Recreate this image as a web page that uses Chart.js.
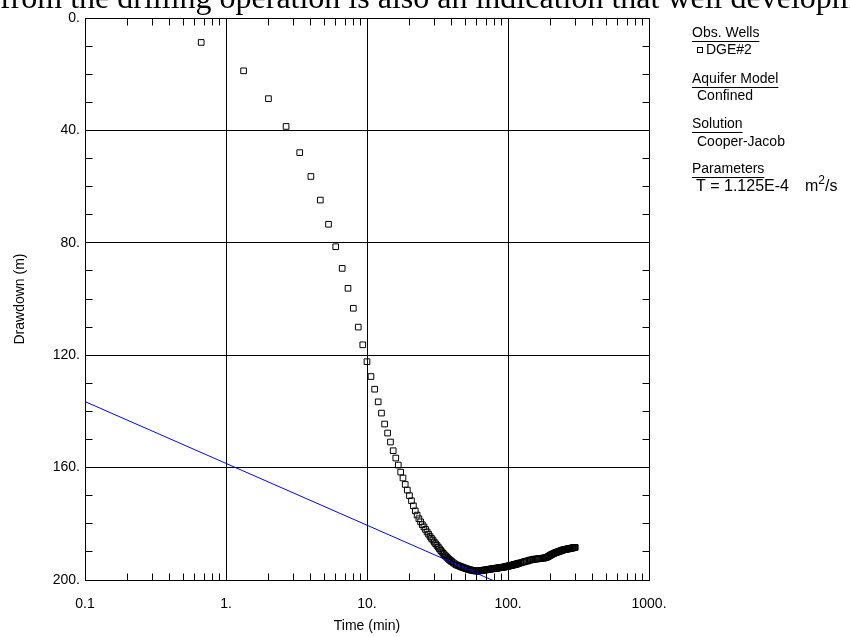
<!DOCTYPE html>
<html><head><meta charset="utf-8">
<style>html,body{margin:0;padding:0;background:#fff;}#wrap{position:relative;width:850px;height:637px;overflow:hidden;}</style>
<script src="https://cdn.jsdelivr.net/npm/chart.js@4/dist/chart.umd.min.js"></script>
</head><body><div id="wrap"><canvas id="c" width="850" height="637"></canvas></div>
<script>
// ---- data ----
const timeMin = [
  0.667,1.333,2,2.667,3.333,4,4.667,5.333,6,6.667,7.333,8,8.667,9.333,10,
  10.667,11.333,12,12.667,13.333,14,14.667,15.333,16,16.667,17.333,18,18.667,19.333,20,
  20.667,21.333,22,22.667,23.333,24,24.667,25.333,26,26.667,27.333,28,28.667,29.333,30,
  30.667,31.333,32,32.667,33.333,34,34.667,35.333,36,36.667,37.333,38,38.667,39.333,40,
  41,42,43,44,45,46,47,48,49,50,51,52,53,54,55,56,57,58,59,60,
  61,62,63,64,65,66,67,68,69,70,71,72,73,74,75,76,77,78,79,80,
  81,82,83,84,85,86,87,88,89,90,91,92,93,94,95,96,97,98,99,100,
  101,102,103,104,105,106,107,108,109,110,111,112,113,114,115,116,117,118,119,120,
  123,126,129,132,135,138,141,144,147,150,153,156,159,162,165,168,171,174,177,180,
  183,186,189,192,195,198,201,204,207,210,213,216,219,222,225,228,231,234,237,240,
  243,246,249,252,255,258,261,264,267,270,273,276,279,282,285,288,291,294,297,300
];
const drawdownM = [
  8.7,18.8,28.7,38.6,47.9,56.4,64.8,73.4,81.4,89.1,96.2,103.3,110.0,116.3,122.3,
  127.6,132.1,136.6,140.6,144.5,147.7,150.9,154.0,156.6,159.1,161.6,163.7,166.0,168.0,170.0,
  171.8,173.6,175.4,176.9,178.2,179.3,180.3,181.1,182.0,182.9,183.7,184.5,185.2,185.8,186.5,
  187.1,187.7,188.3,188.9,189.5,190.0,190.5,191.0,191.4,191.8,192.2,192.6,192.9,193.2,193.5,
  193.9,194.3,194.6,194.8,195.0,195.2,195.4,195.6,195.7,195.9,196.0,196.2,196.3,196.4,196.5,196.6,196.7,196.7,196.8,196.8,
  196.8,196.8,196.7,196.7,196.6,196.6,196.5,196.5,196.4,196.4,196.3,196.3,196.2,196.2,196.1,196.1,196.0,196.0,196.0,195.9,
  195.9,195.8,195.8,195.8,195.7,195.7,195.6,195.6,195.6,195.5,195.5,195.5,195.4,195.4,195.3,195.3,195.2,195.2,195.1,195.1,
  195.0,195.0,194.9,194.9,194.8,194.8,194.7,194.7,194.6,194.6,194.5,194.5,194.4,194.4,194.3,194.3,194.2,194.1,194.1,194.0,
  193.9,193.7,193.6,193.4,193.3,193.2,193.0,192.9,192.8,192.7,192.6,192.6,192.5,192.5,192.4,192.4,192.3,192.3,192.2,192.2,
  192.1,192.0,191.9,191.7,191.5,191.3,191.1,190.9,190.8,190.6,190.5,190.3,190.2,190.1,190.0,189.9,189.8,189.7,189.6,189.5,
  189.4,189.3,189.2,189.2,189.1,189.1,189.0,189.0,188.9,188.9,188.8,188.8,188.7,188.7,188.6,188.6,188.5,188.5,188.5,188.4
];
const fitTime = [0.1, 1000];
const fitDrawdown = [136.5, 224.5];

const xTickValues = [0.1, 1, 10, 100, 1000];
const xTickLabels = ["0.1", "1.", "10.", "100.", "1000."];
const yTickValues = [0, 40, 80, 120, 160, 200];
const yTickLabels = ["0.", "40.", "80.", "120.", "160.", "200."];
const yMinorValues = [10,20,30,50,60,70,90,100,110,130,140,150,170,180,190];
const xMinorMultipliers = [2,3,4,5,6,7,8,9];
const xDecades = [0.1, 1, 10, 100];

const xTitle = "Time (min)";
const yTitle = "Drawdown (m)";
const headerText = "from the drilling operation is also an indication that well developm";
const legendHeadings = ["Obs. Wells", "Aquifer Model", "Solution", "Parameters"];
const legendEntries = ["DGE#2", "Confined", "Cooper-Jacob"];
const paramText = ["T = 1.125E-4", "m", "2", "/s"];

// ---- chart ----
const SANS = "'Liberation Sans', Arial, sans-serif";
Chart.defaults.font.family = SANS;
Chart.defaults.font.size = 14;
Chart.defaults.color = '#000';

const obs = timeMin.map((t, i) => ({x: t, y: drawdownM[i]}));
const fit = fitTime.map((t, i) => ({x: t, y: fitDrawdown[i]}));

function align(p){ return Math.round(p - 0.5) + 0.5; }

const decor = {
  id: 'decor',
  afterDraw(chart) {
    const {ctx, chartArea: a, scales: {x, y}} = chart;
    ctx.save();
    ctx.strokeStyle = '#000';
    ctx.lineWidth = 1;
    const L = align(a.left), R = align(a.right), T = align(a.top), B = align(a.bottom);
    ctx.beginPath();
    ctx.rect(L, T, R - L, B - T);
    ctx.stroke();
    const tl = 7;
    ctx.beginPath();
    yMinorValues.forEach(v => {
      const py = align(y.getPixelForValue(v));
      ctx.moveTo(L, py); ctx.lineTo(L + tl, py);
      ctx.moveTo(R, py); ctx.lineTo(R - tl, py);
    });
    xDecades.forEach(d => xMinorMultipliers.forEach(m => {
      const px = align(x.getPixelForValue(d * m));
      ctx.moveTo(px, B); ctx.lineTo(px, B - tl);
      ctx.moveTo(px, T); ctx.lineTo(px, T + tl);
    }));
    ctx.stroke();

    // header text (document line cut at the top)
    ctx.fillStyle = '#000';
    ctx.font = "32px 'Liberation Serif', 'Times New Roman', serif";
    ctx.textBaseline = 'alphabetic';
    ctx.textAlign = 'left';
    ctx.fillText(headerText, 0, 8);

    // legend panel
    ctx.font = "14px " + SANS;
    ctx.textBaseline = 'middle';
    const hx = 692, ix = 697;
    const headY = [33, 79, 124, 169];
    headY.forEach((yy, i) => {
      ctx.fillText(legendHeadings[i], hx, yy);
      const w = ctx.measureText(legendHeadings[i]).width;
      ctx.beginPath();
      ctx.moveTo(hx, Math.round(yy + 8) + 0.5);
      ctx.lineTo(hx + w, Math.round(yy + 8) + 0.5);
      ctx.stroke();
    });
    // marker
    ctx.strokeRect(697.5, 47.5, 5, 5);
    ctx.fillText(legendEntries[0], 706, 50);
    ctx.fillText(legendEntries[1], ix, 96);
    ctx.fillText(legendEntries[2], ix, 142);
    // parameter with superscript
    ctx.font = "16px " + SANS;
    ctx.fillText(paramText[0], 696, 187);
    let px = 805;
    ctx.fillText(paramText[1], px, 187);
    px += ctx.measureText(paramText[1]).width;
    ctx.font = "12px " + SANS;
    ctx.fillText(paramText[2], px, 181);
    px += ctx.measureText(paramText[2]).width;
    ctx.font = "16px " + SANS;
    ctx.fillText(paramText[3], px, 187);
    ctx.restore();
  }
};

new Chart(document.getElementById('c'), {
  type: 'scatter',
  data: {
    datasets: [
      {
        type: 'line', label: 'Cooper-Jacob', data: fit,
        borderColor: '#0000ff', borderWidth: 1, pointRadius: 0, fill: false, order: 0
      },
      {
        type: 'scatter', label: 'DGE#2', data: obs,
        pointStyle: 'rect', pointRadius: 4, borderWidth: 1,
        borderColor: '#000', backgroundColor: 'rgba(0,0,0,0)', order: 1
      }
    ]
  },
  plugins: [decor],
  options: {
    responsive: false,
    animation: false,
    events: [],
    layout: {padding: {left: 0, top: 18, right: 201, bottom: 0}},
    plugins: {legend: {display: false}, tooltip: {enabled: false}, title: {display: false}},
    scales: {
      x: {
        type: 'logarithmic', position: 'bottom', min: 0.1, max: 1000,
        afterBuildTicks: s => { s.ticks = xTickValues.map(v => ({value: v, major: true})); },
        afterFit: s => { s.height = 57; },
        ticks: {
          autoSkip: false, maxRotation: 0, padding: 16,
          callback: v => { const i = xTickValues.indexOf(v); return i >= 0 ? xTickLabels[i] : ''; }
        },
        grid: {color: '#000', lineWidth: 1, drawTicks: false},
        border: {display: true, color: '#000', width: 1},
        title: {display: true, text: xTitle, padding: {top: 0, bottom: 2}, font: {size: 14}}
      },
      y: {
        type: 'linear', position: 'left', min: 0, max: 200, reverse: true,
        afterBuildTicks: s => { s.ticks = yTickValues.map(v => ({value: v})); },
        afterFit: s => { s.width = 85; },
        ticks: {
          padding: 5,
          callback: v => { const i = yTickValues.indexOf(v); return i >= 0 ? yTickLabels[i] : ''; }
        },
        grid: {color: '#000', lineWidth: 1, drawTicks: false},
        border: {display: true, color: '#000', width: 1},
        title: {display: true, text: yTitle, padding: {top: 12, bottom: 0}, font: {size: 14}}
      }
    }
  }
});
</script>
</body></html>
